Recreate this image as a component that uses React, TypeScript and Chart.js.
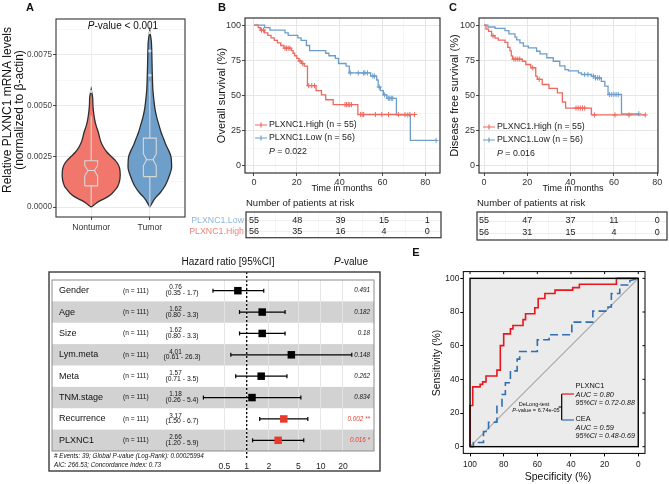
import React, { useEffect, useRef } from 'react';
import { Chart, registerables } from 'chart.js';

Chart.register(...registerables);

const FONT = "'Liberation Sans', Arial, Helvetica, sans-serif";
Chart.defaults.font.family = FONT;
Chart.defaults.color = '#333';

/* ================= DATA: panel A (violin) ================= */
const groupLabels = ['Nontumor', 'Tumor'];
const nontumorLevels = [0, 0.0001, 0.0002, 0.00035, 0.0005, 0.00068, 0.00085, 0.001, 0.0013, 0.0016, 0.0019, 0.0021, 0.0023, 0.0025, 0.0027, 0.003, 0.0033, 0.0037, 0.004, 0.0043, 0.0047, 0.005, 0.0054, 0.0058];
const nontumorDensity = [0, 0.05, 0.09, 0.18, 0.28, 0.36, 0.41, 0.45, 0.485, 0.495, 0.485, 0.46, 0.41, 0.34, 0.27, 0.2, 0.155, 0.12, 0.085, 0.06, 0.04, 0.03, 0.025, 0];
const tumorLevels = [0, 0.0001, 0.0002, 0.00035, 0.0005, 0.00068, 0.001, 0.0013, 0.0016, 0.0019, 0.0022, 0.0025, 0.0028, 0.0031, 0.0034, 0.0037, 0.004, 0.0044, 0.0048, 0.0053, 0.0058, 0.0063, 0.0068, 0.0073, 0.0078, 0.0082, 0.0087];
const tumorDensity = [0, 0.02, 0.04, 0.07, 0.11, 0.17, 0.25, 0.3, 0.34, 0.37, 0.37, 0.36, 0.32, 0.27, 0.23, 0.19, 0.16, 0.12, 0.09, 0.068, 0.052, 0.045, 0.04, 0.036, 0.032, 0.025, 0];
// [whisker low, Q1, notch low, median, notch high, Q3, whisker high]
const nontumorBox = [0.00005, 0.00104, 0.00153, 0.0018, 0.00205, 0.00228, 0.0045];
const tumorBox = [0, 0.0015, 0.00203, 0.00233, 0.00263, 0.0034, 0.0062];
const nontumorOutliers = [0.0057];
const tumorOutliers = [0.0065, 0.0077, 0.0086];
const violinTicks = [0, 0.0025, 0.005, 0.0075];
const violinMinor = [0.00125, 0.00375, 0.00625, 0.00875];
const violinPText = '-value < 0.001';

/* ================= DATA: panels B, C (Kaplan-Meier) ================= */
const kmGroupLabels = ['PLXNC1.High (n = 55)', 'PLXNC1.Low (n = 56)'];
const kmTimeTicks = [0, 20, 40, 60, 80];
const kmTimeMinor = [10, 30, 50, 70];
const kmSurvTicks = [0, 25, 50, 75, 100];
const kmSurvMinor = [12.5, 37.5, 62.5, 87.5];

const osHighTime = [0, 2, 3, 5, 6.5, 8, 9.5, 11, 12.5, 14, 17.5, 18.3, 19, 20, 21, 22.2, 23.5, 25, 29, 31.5, 33.5, 37, 48.5, 75];
const osHighSurv = [100, 98.2, 96.4, 94.5, 92.7, 90.9, 89.1, 87.3, 85.5, 83.6, 81.8, 80, 78.2, 76.4, 74.5, 72.7, 70.9, 57, 53.5, 50.5, 47, 43.5, 36.5, 36.5];
const osHighCensor = [3.5, 4.5, 14.5, 15.2, 16, 16.8, 21.5, 22.8, 25.6, 27, 28.3, 42.5, 43.2, 44, 44.7, 45.5, 49.8, 50.5, 51.2, 56.7, 59.7, 62.8, 67.4, 70.5, 72.8, 75];
const osLowTime = [0, 5, 7.5, 14.5, 16, 20.5, 22, 24.5, 26, 33.5, 35, 38, 39.5, 43, 44.5, 54.5, 57.3, 58, 59, 60.4, 62, 66.5, 73, 85];
const osLowSurv = [100, 98.2, 96.4, 94.5, 92.7, 90.9, 89.1, 85.5, 81.8, 80, 78.2, 76.4, 72.7, 70.9, 66, 63.8, 61, 56, 53.4, 50.4, 48, 36.2, 18.1, 18.1];
const osLowCensor = [45, 48.7, 51.1, 51.8, 53, 55.5, 56.3, 58.5, 61, 62.7, 63.4, 64.1, 64.8, 71.8, 85];
const osPValue = '0.022';

const dfsHighTime = [0, 0.9, 2.1, 3.5, 5.1, 6.6, 9.7, 11, 12, 12.6, 13.2, 17.7, 19.3, 21.6, 23.9, 24.6, 26.9, 30, 33.9, 36.2, 37.7, 49.6, 74.5];
const dfsHighSurv = [100, 97.1, 95.5, 92.4, 90.7, 89.3, 87.7, 84.1, 81.7, 78.1, 75.8, 74.3, 72, 69.7, 63.7, 61.5, 57.8, 55, 51.8, 45.4, 41.1, 36.2, 36.2];
const dfsHighCensor = [4.2, 13.8, 14.7, 15.6, 16.5, 22.5, 25.5, 42.5, 43.5, 44.5, 45.5, 46.5, 51, 60.5, 67, 74.5];
const dfsLowTime = [0, 1.8, 5.1, 9.7, 11.5, 14.3, 15.1, 16.6, 18.2, 20.5, 24.3, 25.9, 29, 32, 35, 37.4, 39, 43.6, 45, 49.6, 51.5, 54.2, 55.8, 57.3, 63.5, 71.5];
const dfsLowSurv = [100, 98.6, 97.6, 96.1, 93.8, 91.4, 89.5, 87.4, 85, 83.8, 81.4, 79.5, 76.8, 74.3, 71, 68.4, 67.5, 66, 64.9, 63.7, 62.5, 60, 56.6, 50.7, 37, 37];
const dfsLowCensor = [46.5, 48, 50.5, 51.5, 52.5, 53.3, 58, 59, 60, 61, 62, 71.5];
const dfsPValue = '0.016';

const riskTimes = [0, 20, 40, 60, 80];
const riskRowLabels = ['PLXNC1.Low', 'PLXNC1.High'];
const osRiskLow = [55, 48, 39, 15, 1];
const osRiskHigh = [56, 35, 16, 4, 0];
const dfsRiskLow = [55, 47, 37, 11, 0];
const dfsRiskHigh = [56, 31, 15, 4, 0];

/* ================= DATA: panel D (forest) ================= */
const forestVars = ['Gender', 'Age', 'Size', 'Lym.meta', 'Meta', 'TNM.stage', 'Recurrence', 'PLXNC1'];
const forestN = [111, 111, 111, 111, 111, 111, 111, 111];
const forestHR = [0.76, 1.62, 1.62, 4.01, 1.57, 1.18, 3.17, 2.66];
const forestLow = [0.35, 0.8, 0.8, 0.61, 0.71, 0.26, 1.5, 1.2];
const forestHigh = [1.7, 3.3, 3.3, 26.3, 3.5, 5.4, 6.7, 5.9];
const forestP = ['0.491', '0.182', '0.18', '0.148', '0.262', '0.834', '0.002 **', '0.016 *'];
const forestSig = [false, false, false, false, false, false, true, true];
const forestTicks = [0.5, 1, 2, 5, 10, 20];
const forestFooter = ['# Events: 39; Global P-value (Log-Rank): 0.00025994', 'AIC: 266.53; Concordance Index: 0.73'];

/* ================= DATA: panel E (ROC) ================= */
const plxSpec = [100, 100, 98.4, 98.4, 94, 94, 92.5, 92.5, 90.5, 90.5, 84, 84, 82, 82, 80, 80, 76, 76, 74.5, 74.5, 68.5, 68.5, 67, 67, 61.5, 61.5, 59.5, 59.5, 55.5, 55.5, 49.5, 49.5, 39, 39, 35, 35, 13, 13, 0];
const plxSens = [0, 24.5, 24.5, 35.5, 35.5, 37, 37, 38.5, 38.5, 42, 42, 45.5, 45.5, 60, 60, 67, 67, 70, 70, 72, 72, 75.5, 75.5, 79, 79, 82.5, 82.5, 88, 88, 91, 91, 93, 93, 94.5, 94.5, 96.5, 96.5, 100, 100];
const ceaSpec = [100, 98, 98, 92, 92, 89, 89, 84, 84, 81, 81, 79, 79, 76, 76, 72, 72, 70.5, 70.5, 60, 60, 53, 53, 39.5, 39.5, 27, 27, 18, 18, 16, 16, 11, 11, 5, 5, 0];
const ceaSens = [0, 0, 2.5, 2.5, 9, 9, 14.5, 14.5, 24, 24, 31, 31, 38, 38, 45, 45, 52, 52, 56.5, 56.5, 63.5, 63.5, 66.5, 66.5, 74, 74, 80.5, 80.5, 83, 83, 91, 91, 96, 96, 98.5, 100];
const rocTicks = [0, 20, 40, 60, 80, 100];
const rocNames = ['PLXNC1', 'CEA'];
const rocAUC = ['0.80', '0.59'];
const rocCI = ['0.72-0.88', '0.48-0.69'];
const rocTest = ['DeLong-test', '-value = 6.74e-05'];

/* ================= colours / layout ================= */
const RED_V = '#F1776C';
const BLUE_V = '#6E9FCA';
const KM_RED = '#EE6A61';
const KM_BLUE = '#6C9ECC';
const LOW_LABEL = '#8FB7DB';
const HIGH_LABEL = '#EF857B';
const FOREST_RED = '#E83A2C';
const ROC_RED = '#E8161D';
const ROC_BLUE = '#2F6FB1';

const CV_A = { x: 0, y: 0, w: 200, h: 240 };
const BOX_A = { left: 56, top: 19, right: 185, bottom: 217 };
const CV_B = { x: 200, y: 0, w: 245, h: 200 };
const BOX_B = { left: 245, top: 18, right: 442, bottom: 173 };
const CV_C = { x: 445, y: 0, w: 224, h: 200 };
const BOX_C = { left: 479, top: 18, right: 658, bottom: 173 };
const CV_TB = { x: 130, y: 195, w: 315, h: 50 };
const BOX_TB = { left: 246, top: 212, right: 441, bottom: 240 };
const CV_TC = { x: 445, y: 195, w: 224, h: 50 };
const BOX_TC = { left: 477, top: 212, right: 667, bottom: 240 };
const CV_D = { x: 40, y: 245, w: 345, h: 239 };
const BOX_D = { left: 52, top: 280, right: 374, bottom: 451 };
const CV_E = { x: 400, y: 245, w: 269, h: 239 };
const BOX_E = { left: 463.3, top: 271.6, right: 645, bottom: 453.4 };

/* ================= helpers ================= */
const near = (v: number, arr: number[]) => arr.some((a) => Math.abs(a - v) < 1e-9);
const pts = (xs: number[], ys: number[]) => xs.map((x, i) => ({ x, y: ys[i] }));
const survAt = (times: number[], surv: number[], t: number) => {
  let s = surv[0];
  for (let i = 0; i < times.length; i++) if (times[i] <= t) s = surv[i];
  return s;
};
const GAP = { x: NaN, y: NaN };

type TOpt = { size?: number; align?: CanvasTextAlign; color?: string; italic?: boolean; bold?: boolean; rot?: number };
function text(ctx: CanvasRenderingContext2D, s: string, x: number, y: number, o: TOpt = {}) {
  ctx.save();
  ctx.font = `${o.italic ? 'italic ' : ''}${o.bold ? 'bold ' : ''}${o.size ?? 9}px ${FONT}`;
  ctx.fillStyle = o.color ?? '#111';
  ctx.textAlign = o.align ?? 'left';
  ctx.textBaseline = 'middle';
  ctx.translate(x, y);
  if (o.rot) ctx.rotate(o.rot);
  ctx.fillText(s, 0, 0);
  ctx.restore();
}
function runs(ctx: CanvasRenderingContext2D, parts: [string, boolean][], x: number, y: number, size: number, align: 'left' | 'center' | 'right', color = '#111') {
  ctx.save();
  ctx.textBaseline = 'middle';
  ctx.textAlign = 'left';
  ctx.fillStyle = color;
  const fonts = parts.map(([, it]) => `${it ? 'italic ' : ''}${size}px ${FONT}`);
  let total = 0;
  const widths = parts.map(([s], i) => {
    ctx.font = fonts[i];
    const w = ctx.measureText(s).width;
    total += w;
    return w;
  });
  let cx = align === 'left' ? x : align === 'center' ? x - total / 2 : x - total;
  parts.forEach(([s], i) => {
    ctx.font = fonts[i];
    ctx.fillText(s, cx, y);
    cx += widths[i];
  });
  ctx.restore();
}
function frame(ctx: CanvasRenderingContext2D, l: number, t: number, r: number, b: number, color: string, lw: number) {
  ctx.save();
  ctx.strokeStyle = color;
  ctx.lineWidth = lw;
  ctx.strokeRect(l, t, r - l, b - t);
  ctx.restore();
}
function baseOptions(cv: any, box: any, yAxisW: number, xAxisH: number) {
  return {
    animation: false,
    responsive: false,
    events: [],
    layout: {
      padding: {
        left: box.left - cv.x - yAxisW,
        top: box.top - cv.y,
        right: cv.x + cv.w - box.right,
        bottom: cv.y + cv.h - box.bottom - xAxisH,
      },
    },
    plugins: { legend: { display: false }, tooltip: { enabled: false } },
  };
}
function gridFor(majors: number[], majorColor: string, minorColor: string, tickLen = 3) {
  return {
    color: (c: any) => (c.tick && near(c.tick.value, majors) ? majorColor : minorColor),
    lineWidth: (c: any) => (c.tick && near(c.tick.value, majors) ? 0.9 : 0.6),
    tickColor: (c: any) => (c.tick && near(c.tick.value, majors) ? '#333' : 'rgba(0,0,0,0)'),
    tickLength: tickLen,
    drawTicks: true,
  };
}

/* ================= panel A ================= */
function violinPoints(center: number, levels: number[], dens: number[]) {
  const right = levels.map((v, i) => ({ x: center + dens[i], y: v }));
  const left = levels.map((v, i) => ({ x: center - dens[i], y: v })).reverse();
  return [...right, ...left];
}
function notchBox(c: number, s: number[], hw: number, nw: number) {
  const [, q1, nl, med, nh, q3] = s;
  return [
    { x: c - hw, y: q1 }, { x: c - hw, y: nl }, { x: c - nw, y: med }, { x: c - hw, y: nh }, { x: c - hw, y: q3 },
    { x: c + hw, y: q3 }, { x: c + hw, y: nh }, { x: c + nw, y: med }, { x: c + hw, y: nl }, { x: c + hw, y: q1 }, { x: c - hw, y: q1 },
  ];
}
function boxLines(c: number, s: number[], nw: number) {
  const [lo, q1, , med, , q3, hi] = s;
  return [{ x: c, y: lo }, { x: c, y: q1 }, GAP, { x: c, y: q3 }, { x: c, y: hi }, GAP, { x: c - nw, y: med }, { x: c + nw, y: med }];
}
function makeViolin() {
  const pxPerUnit = 50.67 / 0.0025;
  const ymin = -(BOX_A.bottom - 207) / pxPerUnit;
  const ymax = (207 - BOX_A.top) / pxPerUnit;
  const boxStyle = { showLine: true, fill: false, borderColor: '#D8D8D8', borderWidth: 1.1, pointRadius: 0, tension: 0, order: 2 };
  const plugin = {
    id: 'violinDeco',
    afterDatasetsDraw(chart: any) {
      const a = chart.chartArea;
      frame(chart.ctx, a.left, a.top, a.right, a.bottom, '#333', 1.1);
    },
    afterDraw(chart: any) {
      const ctx = chart.ctx;
      ctx.save();
      ctx.translate(-CV_A.x, -CV_A.y);
      text(ctx, 'A', 30, 8, { size: 11, bold: true, align: 'center' });
      text(ctx, 'Relative PLXNC1 mRNA levels', 8, 110, { size: 12, align: 'center', rot: -Math.PI / 2 });
      text(ctx, '(normalized to β-actin)', 20, 110, { size: 12, align: 'center', rot: -Math.PI / 2 });
      runs(ctx, [['P', true], [violinPText, false]], 123, 26, 10, 'center');
      ctx.restore();
    },
  };
  return {
    type: 'line',
    data: {
      datasets: [
        { data: violinPoints(1, nontumorLevels, nontumorDensity), showLine: true, fill: 'shape', backgroundColor: RED_V, borderColor: '#2E2E2E', borderWidth: 1.3, pointRadius: 0, tension: 0.25, order: 10 },
        { data: violinPoints(2, tumorLevels, tumorDensity), showLine: true, fill: 'shape', backgroundColor: BLUE_V, borderColor: '#2E2E2E', borderWidth: 1.3, pointRadius: 0, tension: 0.25, order: 10 },
        { data: notchBox(1, nontumorBox, 0.11, 0.055), ...boxStyle },
        { data: notchBox(2, tumorBox, 0.11, 0.055), ...boxStyle },
        { data: boxLines(1, nontumorBox, 0.055), ...boxStyle, spanGaps: false },
        { data: boxLines(2, tumorBox, 0.055), ...boxStyle, spanGaps: false },
        {
          data: [...nontumorOutliers.map((v) => ({ x: 1, y: v })), ...tumorOutliers.map((v) => ({ x: 2, y: v }))],
          showLine: false, pointRadius: 1.6, pointBackgroundColor: '#D8D8D8', pointBorderWidth: 0, order: 1,
        },
      ],
    },
    options: {
      ...baseOptions(CV_A, BOX_A, BOX_A.left - CV_A.x, CV_A.y + CV_A.h - BOX_A.bottom),
      scales: {
        x: {
          type: 'linear', min: 0.4, max: 2.6,
          afterBuildTicks: (s: any) => { s.ticks = [{ value: 1 }, { value: 2 }]; },
          afterFit: (s: any) => { s.height = CV_A.y + CV_A.h - BOX_A.bottom; },
          ticks: { callback: (v: number) => groupLabels[Math.round(v) - 1], font: { size: 8.6 }, color: '#333', padding: 2, maxRotation: 0, autoSkip: false },
          grid: { color: '#EBEBEB', lineWidth: 0.9, tickLength: 3, tickColor: '#333' },
          border: { display: false },
        },
        y: {
          type: 'linear', min: ymin, max: ymax,
          afterBuildTicks: (s: any) => { s.ticks = [...violinTicks, ...violinMinor].sort((p, q) => p - q).map((v) => ({ value: v })); },
          afterFit: (s: any) => { s.width = BOX_A.left - CV_A.x; },
          ticks: { callback: (v: number) => (near(v, violinTicks) ? v.toFixed(4) : ''), font: { size: 8.2 }, color: '#444', padding: 1, autoSkip: false },
          grid: gridFor(violinTicks, '#E6E6E6', '#F2F2F2'),
          border: { display: false },
        },
      },
    },
    plugins: [plugin],
  };
}

/* ================= panels B, C ================= */
function makeKM(k: any) {
  const xAxisH = k.cv.y + k.cv.h - k.box.bottom;
  const yAxisW = k.box.left - k.cv.x;
  const plugin = {
    id: 'km' + k.letter,
    afterDatasetsDraw(chart: any) {
      const a = chart.chartArea;
      frame(chart.ctx, a.left, a.top, a.right, a.bottom, '#333', 1.2);
    },
    afterDraw(chart: any) {
      const ctx = chart.ctx;
      ctx.save();
      ctx.translate(-k.cv.x, -k.cv.y);
      text(ctx, k.letter, k.letterX, 8, { size: 11, bold: true, align: 'center' });
      text(ctx, k.yTitle, k.yTitleX, 95.5, { size: 11, align: 'center', rot: -Math.PI / 2 });
      text(ctx, 'Time in months', k.xTitleX, 188.5, { size: 9, align: 'center' });
      const cols = [KM_RED, KM_BLUE];
      kmGroupLabels.forEach((lab, i) => {
        const y = k.legendY + i * 13;
        ctx.strokeStyle = cols[i];
        ctx.lineWidth = 1.2;
        ctx.beginPath();
        ctx.moveTo(k.legendX, y);
        ctx.lineTo(k.legendX + 12, y);
        ctx.moveTo(k.legendX + 6, y - 2.6);
        ctx.lineTo(k.legendX + 6, y + 2.6);
        ctx.stroke();
        text(ctx, lab, k.legendX + 14, y, { size: 8.8, color: '#222' });
      });
      runs(ctx, [['P', true], [' = ' + k.p, false]], k.legendX + 14, k.legendY + 27, 8.8, 'left', '#222');
      ctx.restore();
    },
  };
  const censor = (g: any, color: string) => ({
    data: g.c.map((t: number) => ({ x: t, y: survAt(g.t, g.s, t) })),
    showLine: false, pointStyle: 'cross', pointRadius: 2.6, pointBorderColor: color, pointBorderWidth: 1, order: 1,
  });
  return {
    type: 'line',
    data: {
      datasets: [
        { data: pts(k.high.t, k.high.s), stepped: true, borderColor: KM_RED, borderWidth: 1.3, pointRadius: 0, fill: false, order: 2 },
        { data: pts(k.low.t, k.low.s), stepped: true, borderColor: KM_BLUE, borderWidth: 1.3, pointRadius: 0, fill: false, order: 3 },
        censor(k.high, KM_RED),
        censor(k.low, KM_BLUE),
      ],
    },
    options: {
      ...baseOptions(k.cv, k.box, yAxisW, xAxisH),
      scales: {
        x: {
          type: 'linear', min: k.xmin, max: k.xmax,
          afterBuildTicks: (s: any) => { s.ticks = [...kmTimeTicks, ...kmTimeMinor].sort((p, q) => p - q).map((v) => ({ value: v })); },
          afterFit: (s: any) => { s.height = xAxisH; },
          ticks: { callback: (v: number) => (near(v, kmTimeTicks) ? String(v) : ''), font: { size: 9 }, color: '#333', padding: 1, maxRotation: 0, autoSkip: false },
          grid: gridFor(kmTimeTicks, '#E3E3E3', '#F0F0F0'),
          border: { display: false },
        },
        y: {
          type: 'linear', min: -5, max: 105,
          afterBuildTicks: (s: any) => { s.ticks = [...kmSurvTicks, ...kmSurvMinor].sort((p, q) => p - q).map((v) => ({ value: v })); },
          afterFit: (s: any) => { s.width = yAxisW; },
          ticks: { callback: (v: number) => (near(v, kmSurvTicks) ? String(v) : ''), font: { size: 9 }, color: '#333', padding: 1, autoSkip: false },
          grid: gridFor(kmSurvTicks, '#E3E3E3', '#F0F0F0'),
          border: { display: false },
        },
      },
    },
    plugins: [plugin],
  };
}

function makeRisk(r: any) {
  const yAxisW = r.showLabels ? r.box.left - r.cv.x : 0;
  const pxPerMonth = 20 * (1 / 43.3);
  const xmin = -(r.zeroPx - r.box.left) * pxPerMonth;
  const xmax = (r.box.right - r.zeroPx) * pxPerMonth;
  const plugin = {
    id: 'risk' + r.key,
    afterDatasetsDraw(chart: any) {
      const ctx = chart.ctx;
      [r.low, r.high].forEach((arr: number[], di: number) => {
        const meta = chart.getDatasetMeta(di);
        meta.data.forEach((el: any, i: number) => text(ctx, String(arr[i]), el.x, el.y, { size: 9, align: 'center', color: '#1a1a1a' }));
      });
      const a = chart.chartArea;
      frame(ctx, a.left, a.top, a.right, a.bottom, '#333', 1.2);
    },
    afterDraw(chart: any) {
      const ctx = chart.ctx;
      ctx.save();
      ctx.translate(-r.cv.x, -r.cv.y);
      text(ctx, 'Number of patients at risk', r.box.left, 203.5, { size: 9.5, color: '#1a1a1a' });
      ctx.restore();
    },
  };
  return {
    type: 'line',
    data: {
      datasets: [
        { data: riskTimes.map((t) => ({ x: t, y: 2 })), showLine: false, pointRadius: 0 },
        { data: riskTimes.map((t) => ({ x: t, y: 1 })), showLine: false, pointRadius: 0 },
      ],
    },
    options: {
      ...baseOptions(r.cv, r.box, yAxisW, 0),
      scales: {
        x: {
          type: 'linear', min: xmin, max: xmax,
          afterBuildTicks: (s: any) => { s.ticks = [...kmTimeTicks, ...kmTimeMinor].sort((p, q) => p - q).map((v) => ({ value: v })); },
          afterFit: (s: any) => { s.height = 0; },
          ticks: { display: false },
          grid: { color: (c: any) => (c.tick && near(c.tick.value, kmTimeTicks) ? '#E6E6E6' : '#F2F2F2'), lineWidth: 0.7, drawTicks: false },
          border: { display: false },
        },
        y: {
          type: 'linear', min: 0.4167, max: 2.75,
          afterBuildTicks: (s: any) => { s.ticks = [{ value: 1 }, { value: 2 }]; },
          afterFit: (s: any) => { s.width = yAxisW; },
          ticks: {
            display: r.showLabels,
            callback: (v: number) => (Math.round(v) === 2 ? riskRowLabels[0] : riskRowLabels[1]),
            color: (c: any) => (c.tick && Math.round(c.tick.value) === 2 ? LOW_LABEL : HIGH_LABEL),
            font: { size: 8.8 }, padding: 2, autoSkip: false,
          },
          grid: { color: '#E6E6E6', lineWidth: 0.7, drawTicks: false },
          border: { display: false },
        },
      },
    },
    plugins: [plugin],
  };
}

/* ================= panel D ================= */
function makeForest() {
  const ppd = 74; // px per decade
  const onePx = 246.7;
  const xmin = Math.pow(10, (BOX_D.left - onePx) / ppd);
  const xmax = Math.pow(10, (BOX_D.right - onePx) / ppd);
  const rowH = (BOX_D.bottom - BOX_D.top) / forestVars.length;
  const plugin = {
    id: 'forestDeco',
    beforeDraw(chart: any) {
      const { ctx, chartArea: a, scales } = chart;
      const y = scales.y;
      ctx.save();
      forestVars.forEach((_, i) => {
        if (i % 2 === 1) {
          const t = y.getPixelForValue(i + 0.5);
          const b = y.getPixelForValue(i + 1.5);
          ctx.fillStyle = '#D2D2D2';
          ctx.fillRect(a.left, t, a.width, b - t);
        }
      });
      ctx.restore();
    },
    afterDraw(chart: any) {
      const { ctx, chartArea: a, scales } = chart;
      const y = scales.y;
      frame(ctx, a.left, a.top, a.right, a.bottom, '#8C8C8C', 1);
      ctx.save();
      ctx.translate(-CV_D.x, -CV_D.y);
      frame(ctx, 49, 272, 380, 471, '#3A3A3A', 1.4);
      text(ctx, 'D', 30, 253, { size: 11, bold: true, align: 'center' });
      text(ctx, 'Hazard ratio [95%CI]', 228, 262, { size: 10, align: 'center' });
      runs(ctx, [['P', true], ['-value', false]], 351, 262, 10, 'center');
      ctx.restore();
      forestVars.forEach((name, i) => {
        const py = y.getPixelForValue(i + 1);
        const ox = -CV_D.x;
        text(ctx, name, 59 + ox, py, { size: 9, color: '#111' });
        text(ctx, `(n = ${forestN[i]})`, 123 + ox, py, { size: 6.6, color: '#111' });
        text(ctx, forestHR[i].toFixed(2), 175.5 + ox, py - 3, { size: 6.4, align: 'center', color: '#111' });
        text(ctx, `(${forestLow[i].toFixed(2)} - ${forestHigh[i].toFixed(1)})`, 182 + ox, py + 2.6, { size: 6.8, align: 'center', color: '#111' });
        text(ctx, forestP[i], 370 + ox, py, { size: 6.3, italic: true, align: 'right', color: forestSig[i] ? FOREST_RED : '#111' });
      });
      ctx.save();
      ctx.translate(-CV_D.x, -CV_D.y);
      text(ctx, forestFooter[0], 54, 456, { size: 6.3, italic: true });
      text(ctx, forestFooter[1], 54, 465, { size: 6.3, italic: true });
      ctx.restore();
    },
  };
  const datasets: any[] = [];
  datasets.push({
    data: forestHR.map((v, i) => ({ x: v, y: i + 1 })), showLine: false, pointStyle: 'rect', pointRadius: 5.3,
    pointBackgroundColor: forestSig.map((s) => (s ? FOREST_RED : '#000')), pointBorderWidth: 0, order: 1,
  });
  forestVars.forEach((_, i) => {
    datasets.push({
      data: [{ x: forestLow[i], y: i + 1 }, { x: forestHigh[i], y: i + 1 }], showLine: true, borderColor: '#000', borderWidth: 1.3,
      pointStyle: 'line', pointRotation: 90, pointRadius: 2, pointBorderColor: '#000', pointBorderWidth: 1.2, order: 2,
    });
  });
  const topV = 0.5 - (BOX_D.top - 272) / rowH;
  const botV = 8.5 + (458 - BOX_D.bottom) / rowH;
  datasets.push({ data: [{ x: 1, y: topV }, { x: 1, y: botV }], showLine: true, borderColor: '#000', borderWidth: 1.3, borderDash: [2, 2], pointRadius: 0, clip: false, order: 3 });
  return {
    type: 'line',
    data: { datasets },
    options: {
      ...baseOptions(CV_D, BOX_D, 0, CV_D.y + CV_D.h - BOX_D.bottom),
      scales: {
        x: {
          type: 'logarithmic', min: xmin, max: xmax,
          afterBuildTicks: (s: any) => { s.ticks = forestTicks.map((v) => ({ value: v })); },
          afterFit: (s: any) => { s.height = CV_D.y + CV_D.h - BOX_D.bottom; },
          ticks: { callback: (v: number) => String(v), font: { size: 8.6 }, color: '#222', padding: 10, maxRotation: 0, autoSkip: false },
          grid: { color: '#E4E4E4', lineWidth: 0.9, drawTicks: false },
          border: { display: false },
        },
        y: { type: 'linear', min: 0.5, max: 8.5, reverse: true, display: false },
      },
    },
    plugins: [plugin],
  };
}

/* ================= panel E ================= */
function makeROC() {
  const plugin = {
    id: 'rocDeco',
    beforeDatasetsDraw(chart: any) {
      const { ctx, scales } = chart;
      const l = scales.x.getPixelForValue(100), r = scales.x.getPixelForValue(0);
      const t = scales.y.getPixelForValue(100), b = scales.y.getPixelForValue(0);
      ctx.save();
      ctx.fillStyle = '#EBEBEB';
      ctx.fillRect(l, t, r - l, b - t);
      ctx.restore();
    },
    afterDatasetsDraw(chart: any) {
      const { ctx, scales, chartArea: a } = chart;
      const l = scales.x.getPixelForValue(100), r = scales.x.getPixelForValue(0);
      const t = scales.y.getPixelForValue(100), b = scales.y.getPixelForValue(0);
      frame(ctx, l, t, r, b, '#000', 1.4);
      frame(ctx, a.left, a.top, a.right, a.bottom, '#000', 1);
      ctx.save();
      ctx.strokeStyle = '#000';
      ctx.lineWidth = 1;
      ctx.beginPath();
      rocTicks.forEach((v) => {
        const px = scales.x.getPixelForValue(v);
        ctx.moveTo(px, a.top);
        ctx.lineTo(px, a.top + 2.5);
        const py = scales.y.getPixelForValue(v);
        ctx.moveTo(a.right, py);
        ctx.lineTo(a.right - 2.5, py);
      });
      ctx.stroke();
      ctx.restore();
    },
    afterDraw(chart: any) {
      const ctx = chart.ctx;
      ctx.save();
      ctx.translate(-CV_E.x, -CV_E.y);
      text(ctx, 'E', 416, 253, { size: 11, bold: true, align: 'center' });
      text(ctx, 'Specificity (%)', 558, 477.5, { size: 10.5, align: 'center' });
      text(ctx, 'Sensitivity (%)', 437.5, 363, { size: 10.5, align: 'center', rot: -Math.PI / 2 });
      ctx.lineWidth = 1.2;
      ctx.strokeStyle = '#000';
      ctx.beginPath();
      ctx.moveTo(561.7, 394);
      ctx.lineTo(561.7, 420);
      ctx.moveTo(558.5, 407);
      ctx.lineTo(561.7, 407);
      ctx.stroke();
      ctx.strokeStyle = ROC_RED;
      ctx.beginPath();
      ctx.moveTo(561.7, 394);
      ctx.lineTo(574, 394);
      ctx.stroke();
      ctx.strokeStyle = ROC_BLUE;
      ctx.beginPath();
      ctx.moveTo(561.7, 420);
      ctx.lineTo(574, 420);
      ctx.stroke();
      rocNames.forEach((nm, i) => {
        const y0 = 386 + i * 33;
        text(ctx, nm, 575.5, y0, { size: 7.4, color: '#111' });
        text(ctx, `AUC = ${rocAUC[i]}`, 575.5, y0 + 8.5, { size: 7.4, italic: true, color: '#111' });
        text(ctx, `95%CI = ${rocCI[i]}`, 575.5, y0 + 17.3, { size: 7.1, italic: true, color: '#111' });
      });
      text(ctx, rocTest[0], 534, 404, { size: 5.6, align: 'center', color: '#111' });
      runs(ctx, [['P', true], [rocTest[1], false]], 536, 410.5, 5.6, 'center');
      ctx.restore();
    },
  };
  return {
    type: 'line',
    data: {
      datasets: [
        { data: pts(plxSpec, plxSens), showLine: true, borderColor: ROC_RED, borderWidth: 1.6, pointRadius: 0, order: 1 },
        { data: pts(ceaSpec, ceaSens), showLine: true, borderColor: ROC_BLUE, borderWidth: 1.6, borderDash: [8, 4], pointRadius: 0, order: 2 },
        { data: [{ x: 100, y: 0 }, { x: 0, y: 100 }], showLine: true, borderColor: '#A8A8A8', borderWidth: 1.2, pointRadius: 0, order: 3 },
      ],
    },
    options: {
      ...baseOptions(CV_E, BOX_E, BOX_E.left - CV_E.x, CV_E.y + CV_E.h - BOX_E.bottom),
      scales: {
        x: {
          type: 'linear', min: -4, max: 104, reverse: true,
          afterBuildTicks: (s: any) => { s.ticks = rocTicks.map((v) => ({ value: v })); },
          afterFit: (s: any) => { s.height = CV_E.y + CV_E.h - BOX_E.bottom; },
          ticks: { callback: (v: number) => String(v), font: { size: 8.4 }, color: '#222', padding: 3, maxRotation: 0, autoSkip: false },
          grid: { drawOnChartArea: false, drawTicks: true, tickLength: 3, tickColor: '#000', lineWidth: 1 },
          border: { display: false },
        },
        y: {
          type: 'linear', min: -4, max: 104,
          afterBuildTicks: (s: any) => { s.ticks = rocTicks.map((v) => ({ value: v })); },
          afterFit: (s: any) => { s.width = BOX_E.left - CV_E.x; },
          ticks: { callback: (v: number) => String(v), font: { size: 8.4 }, color: '#222', padding: 1, autoSkip: false },
          grid: { drawOnChartArea: false, drawTicks: true, tickLength: 3, tickColor: '#000', lineWidth: 1 },
          border: { display: false },
        },
      },
    },
    plugins: [plugin],
  };
}

/* ================= components ================= */
function ChartBox(props: { cv: { x: number; y: number; w: number; h: number }; make: () => any }) {
  const ref = useRef<HTMLCanvasElement | null>(null);
  useEffect(() => {
    const el = ref.current;
    if (!el) return;
    const chart = new Chart(el, props.make());
    return () => {
      chart.destroy();
    };
  }, []);
  const { x, y, w, h } = props.cv;
  return <canvas ref={ref} width={w} height={h} style={{ position: 'absolute', left: x, top: y, width: w, height: h }} />;
}

const makeB = () =>
  makeKM({
    cv: CV_B, box: BOX_B, xmin: -(254 - BOX_B.left) / 2.165, xmax: (BOX_B.right - 254) / 2.165,
    high: { t: osHighTime, s: osHighSurv, c: osHighCensor }, low: { t: osLowTime, s: osLowSurv, c: osLowCensor },
    letter: 'B', letterX: 222, yTitle: 'Overall survival (%)', yTitleX: 222, xTitleX: 342, legendX: 255, legendY: 125, p: osPValue,
  });
const makeC = () =>
  makeKM({
    cv: CV_C, box: BOX_C, xmin: -(484 - BOX_C.left) / 2.165, xmax: (BOX_C.right - 484) / 2.165,
    high: { t: dfsHighTime, s: dfsHighSurv, c: dfsHighCensor }, low: { t: dfsLowTime, s: dfsLowSurv, c: dfsLowCensor },
    letter: 'C', letterX: 453, yTitle: 'Disease free survival (%)', yTitleX: 455, xTitleX: 573, legendX: 483, legendY: 127, p: dfsPValue,
  });
const makeTB = () => makeRisk({ key: 'B', cv: CV_TB, box: BOX_TB, zeroPx: 254, showLabels: true, low: osRiskLow, high: osRiskHigh });
const makeTC = () => makeRisk({ key: 'C', cv: CV_TC, box: BOX_TC, zeroPx: 484, showLabels: false, low: dfsRiskLow, high: dfsRiskHigh });

export default function App() {
  return (
    <div style={{ position: 'absolute', left: 0, top: 0, width: 669, height: 484, background: '#fff', overflow: 'hidden' }}>
      <ChartBox cv={CV_A} make={makeViolin} />
      <ChartBox cv={CV_B} make={makeB} />
      <ChartBox cv={CV_C} make={makeC} />
      <ChartBox cv={CV_TB} make={makeTB} />
      <ChartBox cv={CV_TC} make={makeTC} />
      <ChartBox cv={CV_D} make={makeForest} />
      <ChartBox cv={CV_E} make={makeROC} />
    </div>
  );
}
